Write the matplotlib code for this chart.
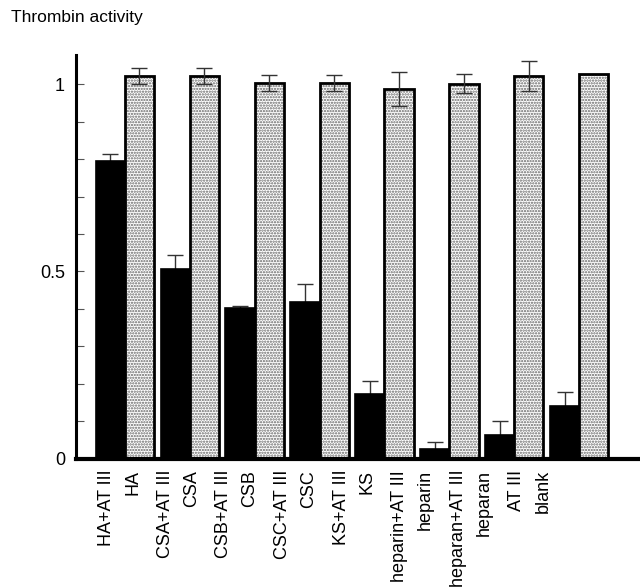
import numpy as np
import matplotlib
matplotlib.use('Agg')
import matplotlib.pyplot as plt
from matplotlib.ticker import MultipleLocator

plt.rcParams['font.family'] = ['Liberation Sans', 'DejaVu Sans']

# pairs: sample + AT III (black) and sample alone (dotted)
black_labels = ['HA+AT III', 'CSA+AT III', 'CSB+AT III', 'CSC+AT III',
                'KS+AT III', 'heparin+AT III', 'heparan+AT III', 'AT III']
dotted_labels = ['HA', 'CSA', 'CSB', 'CSC', 'KS', 'heparin', 'heparan', 'blank']

black_vals = [0.796, 0.507, 0.402, 0.419, 0.173, 0.025, 0.064, 0.141]
black_err = [0.017, 0.037, 0.007, 0.048, 0.035, 0.020, 0.037, 0.038]
dotted_vals = [1.022, 1.022, 1.003, 1.003, 0.987, 1.001, 1.022, 1.027]
dotted_err = [0.022, 0.022, 0.022, 0.022, 0.045, 0.025, 0.041, 0.0]

fig = plt.figure(figsize=(6.4, 5.88), dpi=100)
ax = fig.add_axes([75.5 / 640, 1 - 458.7 / 588, 1 - 75.5 / 640, (458.7 - 55) / 588])

w = 0.45
idx = np.arange(len(black_vals))
xb = idx + w / 2
xd = idx + w + w / 2

# black bars, error bars behind them (only the upper part shows)
ax.errorbar(xb, black_vals, yerr=black_err, fmt='none', ecolor='#333333',
            elinewidth=1.0, capsize=5.5, capthick=1.0, zorder=1)
ax.bar(xb, black_vals, width=w, color='black', edgecolor='black',
       linewidth=1.2, zorder=2)

# dotted bars: hatch layer then black outline
plt.rcParams['hatch.linewidth'] = 1.1
ax.bar(xd, dotted_vals, width=w, color='white', edgecolor='#666666',
       hatch='......', linewidth=0, zorder=2)
ax.bar(xd, dotted_vals, width=w, color='none', edgecolor='black',
       linewidth=2.0, zorder=3)
derr = np.array(dotted_err)
has = derr > 0
ax.errorbar(xd[has], np.array(dotted_vals)[has], yerr=derr[has], fmt='none',
            ecolor='#333333', elinewidth=1.0, capsize=5.5, capthick=1.0, zorder=4)

ax.set_xlim(-0.311, 8.387)
ax.set_ylim(0, 1.078)

# tick labels sit a little tighter than the bars
lab_b = 0.169 + 0.903 * idx
lab_d = lab_b + 0.40
ticks = np.ravel(np.column_stack([lab_b, lab_d]))
labels = [l for pair in zip(black_labels, dotted_labels) for l in pair]
ax.set_xticks(ticks)
ax.set_xticklabels(labels, rotation=90, fontsize=13)
ax.tick_params(axis='x', length=0, pad=8)

ax.set_yticks([0, 0.5, 1])
ax.set_yticklabels(['0', '0.5', '1'], fontsize=13)
ax.yaxis.set_minor_locator(MultipleLocator(0.1))
ax.tick_params(axis='y', which='both', direction='in', length=6, width=0.8,
               color='#555555', pad=7.5)

ax.spines['top'].set_visible(False)
ax.spines['right'].set_visible(False)
ax.spines['left'].set_linewidth(2.2)
ax.spines['bottom'].set_linewidth(3.0)

fig.text(11 / 640, 1 - 22 / 588, 'Thrombin activity', fontsize=12.5, va='baseline')

plt.savefig('out.png', dpi=100)
